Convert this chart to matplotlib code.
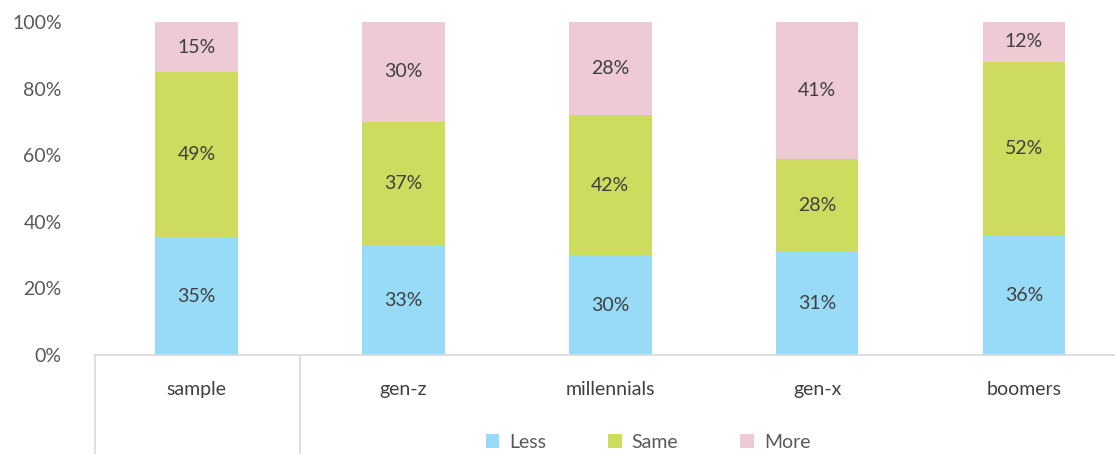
import matplotlib.pyplot as plt
import numpy as np

categories = ['sample', 'gen-z', 'millennials', 'gen-x', 'boomers']
less = np.array([35, 33, 30, 31, 36])
same = np.array([49, 37, 42, 28, 52])
more = np.array([15, 30, 28, 41, 12])

colors = {'Less': '#97dbf7', 'Same': '#cddb5e', 'More': '#edcad4'}

plt.rcParams['font.family'] = ['Lato', 'DejaVu Sans']

fig = plt.figure(figsize=(11.15, 4.54), dpi=100)
ax = fig.add_axes([95 / 1115, 99 / 454, 1 - 95 / 1115, 333 / 454])

# 100% stacked: scale each column by its total
total = less + same + more
x = np.arange(len(categories))
bottom = np.zeros(len(categories))
for name, vals in [('Less', less), ('Same', same), ('More', more)]:
    h = vals / total * 100
    ax.bar(x, h, 0.4, bottom=bottom, color=colors[name], label=name)
    for xi, b, hi, v in zip(x, bottom, h, vals):
        ax.text(xi, b + hi / 2, f'{v}%', ha='center', va='center',
                fontsize=14, color='#404040')
    bottom += h

ax.set_ylim(0, 100)
ax.set_xlim(-0.49, 4.44)
ax.set_yticks(range(0, 101, 20))
ax.set_yticklabels([f'{t}%' for t in range(0, 101, 20)])
ax.tick_params(axis='y', length=0, pad=24, labelsize=14, labelcolor='#595959')
ax.set_xticks([])
for s in ['top', 'right', 'left']:
    ax.spines[s].set_visible(False)
ax.spines['bottom'].set_color('#d9d9d9')
ax.spines['bottom'].set_linewidth(1.2)

# category table below the axis
for xi, c in zip(x, categories):
    ax.text(xi, -10.5, c, ha='center', va='center', fontsize=14, color='#404040')
for xl in [-0.49, 0.5]:
    ax.plot([xl, xl], [0, -30], color='#d9d9d9', lw=1.2, clip_on=False)

leg = fig.legend(loc='center', bbox_to_anchor=(648 / 1115, 1 - 442 / 454), ncol=3,
                 frameon=False, fontsize=14, handlelength=0.7, handleheight=0.7,
                 columnspacing=3.2, handletextpad=0.5)
for t in leg.get_texts():
    t.set_color('#595959')

fig.savefig('out.png', dpi=100)
